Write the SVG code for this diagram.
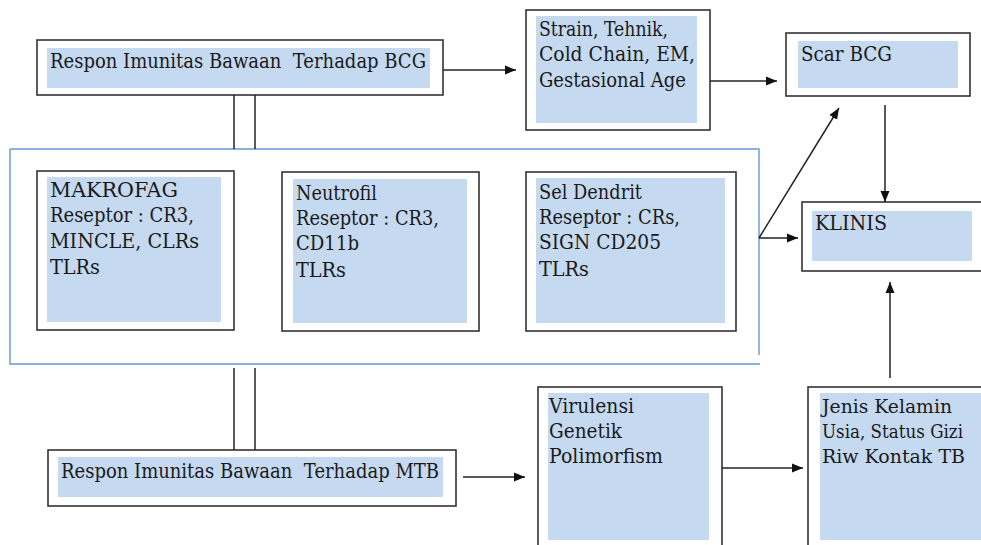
<svg xmlns="http://www.w3.org/2000/svg" width="981" height="545" viewBox="0 0 981 545">
<defs>
<marker id="ah" markerUnits="userSpaceOnUse" markerWidth="12" markerHeight="10" refX="11" refY="5" orient="auto">
<path d="M0,0.5 L11,5 L0,9.5 Z" fill="#111"/>
</marker>
<style>
.box{fill:#fff;stroke:#333;stroke-width:1.6}
.fill{fill:#c5d9f1}
.grp{fill:none;stroke:#6a97d4;stroke-width:1.4}
text{font-family:'DejaVu Serif','Liberation Serif',serif;font-size:20px;fill:#1a1a1a;white-space:pre}
.sm{font-size:18.5px}
.c{stroke:#222;stroke-width:1.5;fill:none}
.ca{stroke:#222;stroke-width:1.5;fill:none;marker-end:url(#ah)}
</style>
</defs>
<rect width="981" height="545" fill="#fff"/>

<g id="group-innate">
<path class="grp" d="M10,149 H759 V355"/>
<path class="grp" d="M10,149 V364 H760"/>
</g>

<g id="bcg">
<rect class="box" x="37" y="40" width="406" height="55"/>
<rect class="fill" x="47" y="48" width="383" height="40"/>
<text x="50" y="68" textLength="376" lengthAdjust="spacingAndGlyphs">Respon Imunitas Bawaan  Terhadap BCG</text>
</g>

<g id="strain">
<rect class="box" x="526" y="10" width="184" height="120"/>
<rect class="fill" x="536" y="16" width="161" height="107"/>
<text x="539" y="36" textLength="129" lengthAdjust="spacingAndGlyphs">Strain, Tehnik,</text>
<text x="539" y="61" textLength="156" lengthAdjust="spacingAndGlyphs">Cold Chain, EM,</text>
<text x="539" y="87" textLength="147" lengthAdjust="spacingAndGlyphs">Gestasional Age</text>
</g>

<g id="scar">
<rect class="box" x="786" y="33" width="184" height="63"/>
<rect class="fill" x="798" y="41" width="160" height="47"/>
<text x="801" y="61" textLength="91" lengthAdjust="spacingAndGlyphs">Scar BCG</text>
</g>

<g id="makrofag">
<rect class="box" x="37" y="171" width="197" height="159"/>
<rect class="fill" x="47" y="177" width="174" height="145"/>
<text x="50" y="197" textLength="128" lengthAdjust="spacingAndGlyphs">MAKROFAG</text>
<text x="50" y="222" textLength="144" lengthAdjust="spacingAndGlyphs">Reseptor : CR3,</text>
<text x="50" y="248" textLength="149" lengthAdjust="spacingAndGlyphs">MINCLE, CLRs</text>
<text x="50" y="274" textLength="50" lengthAdjust="spacingAndGlyphs">TLRs</text>
</g>

<g id="neutrofil">
<rect class="box" x="282" y="172" width="197" height="159"/>
<rect class="fill" x="293" y="179" width="174" height="144"/>
<text x="296" y="200" textLength="81" lengthAdjust="spacingAndGlyphs">Neutrofil</text>
<text x="296" y="225" textLength="143" lengthAdjust="spacingAndGlyphs">Reseptor : CR3,</text>
<text x="296" y="250" textLength="63" lengthAdjust="spacingAndGlyphs">CD11b</text>
<text x="296" y="277" textLength="50" lengthAdjust="spacingAndGlyphs">TLRs</text>
</g>

<g id="dendrit">
<rect class="box" x="526" y="172" width="210" height="159"/>
<rect class="fill" x="536" y="178" width="189" height="145"/>
<text x="539" y="199" textLength="103" lengthAdjust="spacingAndGlyphs">Sel Dendrit</text>
<text x="539" y="224" textLength="141" lengthAdjust="spacingAndGlyphs">Reseptor : CRs,</text>
<text x="539" y="249" textLength="122" lengthAdjust="spacingAndGlyphs">SIGN CD205</text>
<text x="539" y="276" textLength="50" lengthAdjust="spacingAndGlyphs">TLRs</text>
</g>

<g id="klinis">
<rect class="box" x="802" y="202" width="190" height="69"/>
<rect class="fill" x="812" y="211" width="160" height="50"/>
<text x="815" y="230" textLength="72" lengthAdjust="spacingAndGlyphs">KLINIS</text>
</g>

<g id="mtb">
<rect class="box" x="48" y="450" width="408" height="56"/>
<rect class="fill" x="58" y="457" width="385" height="40"/>
<text x="61" y="478" textLength="378" lengthAdjust="spacingAndGlyphs">Respon Imunitas Bawaan  Terhadap MTB</text>
</g>

<g id="virulensi">
<rect class="box" x="538" y="387" width="184" height="170"/>
<rect class="fill" x="548" y="393" width="161" height="147"/>
<text x="549" y="413" textLength="85" lengthAdjust="spacingAndGlyphs">Virulensi</text>
<text x="549" y="438" textLength="73" lengthAdjust="spacingAndGlyphs">Genetik</text>
<text x="549" y="463" textLength="114" lengthAdjust="spacingAndGlyphs">Polimorfism</text>
</g>

<g id="jenis">
<rect class="box" x="808" y="387" width="190" height="170"/>
<rect class="fill" x="820" y="393" width="170" height="147"/>
<text class="sm" x="822" y="413" textLength="130" lengthAdjust="spacingAndGlyphs">Jenis Kelamin</text>
<text class="sm" x="822" y="438" textLength="141" lengthAdjust="spacingAndGlyphs">Usia, Status Gizi</text>
<text class="sm" x="822" y="463" textLength="143" lengthAdjust="spacingAndGlyphs">Riw Kontak TB</text>
</g>

<g id="connectors">
<line class="ca" x1="443" y1="70" x2="516" y2="70"/>
<line class="ca" x1="710" y1="81" x2="777" y2="81"/>
<line class="c" x1="234" y1="95" x2="234" y2="149"/>
<line class="c" x1="255" y1="95" x2="255" y2="149"/>
<line class="c" x1="234" y1="368" x2="234" y2="450"/>
<line class="c" x1="255" y1="368" x2="255" y2="450"/>
<line class="ca" x1="759" y1="238" x2="798" y2="238"/>
<line class="ca" x1="759" y1="238" x2="839" y2="108"/>
<line class="ca" x1="885" y1="105" x2="885" y2="202"/>
<line class="ca" x1="890" y1="378" x2="890" y2="282"/>
<line class="ca" x1="463" y1="477" x2="525" y2="477"/>
<line class="ca" x1="722" y1="468" x2="803" y2="468"/>
</g>
</svg>
